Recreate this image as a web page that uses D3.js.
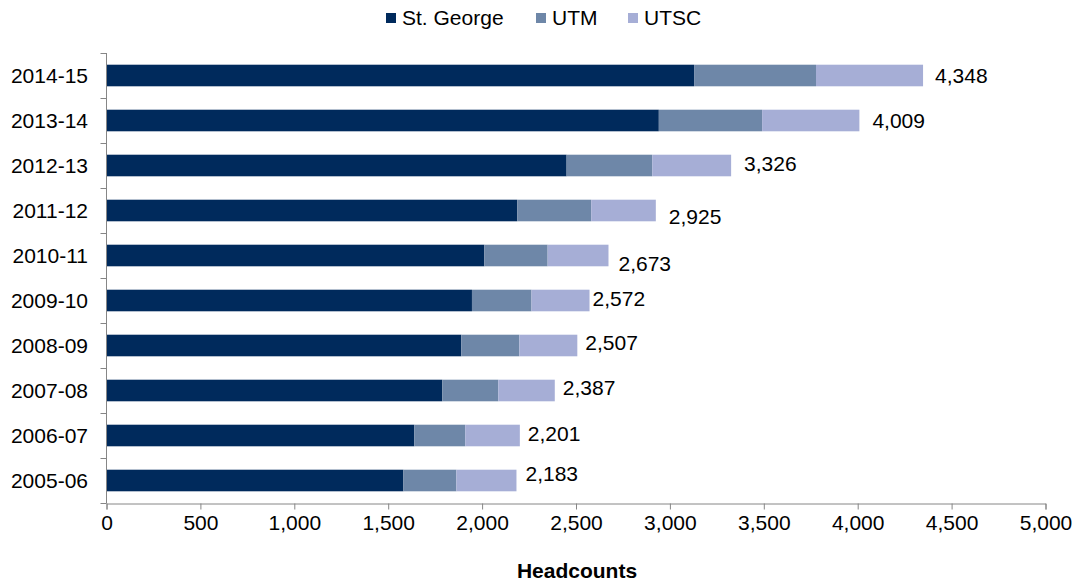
<!DOCTYPE html>
<html>
<head>
<meta charset="utf-8">
<script src="https://cdn.jsdelivr.net/npm/d3@7"></script>
<style>
  html, body { margin: 0; padding: 0; background: #fff; }
  svg { display: block; font-family: "Liberation Sans", Arial, sans-serif; }
</style>
</head>
<body>
<svg id="chart" width="1075" height="582"></svg>
<script>
// ---- data ----
const categories = ["2014-15","2013-14","2012-13","2011-12","2010-11","2009-10","2008-09","2007-08","2006-07","2005-06"];
const stGeorge = [3129, 2941, 2450, 2187, 2012, 1946, 1889, 1788, 1639, 1581];
const utm      = [ 649,  550,  456,  394,  337,  317,  309,  298,  271,  282];
const utsc     = [ 570,  518,  420,  344,  324,  309,  309,  301,  291,  320];
const totals   = [4348, 4009, 3326, 2925, 2673, 2572, 2507, 2387, 2201, 2183];
const seriesNames = ["St. George", "UTM", "UTSC"];
const xTicks = [0, 500, 1000, 1500, 2000, 2500, 3000, 3500, 4000, 4500, 5000];
const axisTitle = "Headcounts";

// ---- style ----
const colors = ["#002A5C", "#6E87A8", "#A6AED6"];
const labelDx = [12, 13, 13, 13, 10, 3, 8, 8, 8, 9];
const labelDy = [0, 0, -2, 6, 8, -2, -3, -3, -2, -7];
const fontSize = 21;
const axisColor = "#868686";

const svg = d3.select("#chart");
const x = d3.scaleLinear().domain([0, 5000]).range([106.5, 1045.5]);
const y = d3.scaleBand().domain(categories).range([53, 503]).paddingInner(0.52).paddingOuter(0.26);

const rows = categories.map((c, i) => ({cat: c, "St. George": stGeorge[i], "UTM": utm[i], "UTSC": utsc[i], total: totals[i], i}));
const stack = d3.stack().keys(seriesNames)(rows);

// bars
stack.forEach((s, si) => {
  svg.append("g").selectAll("rect").data(s).join("rect")
    .attr("x", d => x(d[0]))
    .attr("y", d => y(d.data.cat))
    .attr("width", d => x(d[1]) - x(d[0]))
    .attr("height", y.bandwidth())
    .attr("fill", colors[si]);
});

// total labels
svg.append("g").selectAll("text").data(rows).join("text")
  .attr("x", d => x(d3.sum(seriesNames, k => d[k])) + labelDx[d.i])
  .attr("y", d => y(d.cat) + y.bandwidth() / 2 + labelDy[d.i])
  .attr("dy", "0.35em")
  .attr("font-size", fontSize)
  .attr("fill", "#000")
  .text(d => d3.format(",")(d.total));

// x axis
const xAxis = svg.append("g").attr("transform", "translate(0,503.5)")
  .call(d3.axisBottom(x).tickValues(xTicks).tickFormat(d3.format(",")).tickSize(6).tickPadding(6));
xAxis.select(".domain").attr("stroke", axisColor);
xAxis.selectAll(".tick line").attr("stroke", axisColor);
xAxis.selectAll(".tick text").attr("font-size", fontSize).attr("font-family", "Liberation Sans, Arial, sans-serif").attr("fill", "#000");

// y axis (ticks at band boundaries)
const yAxisG = svg.append("g");
yAxisG.append("line").attr("x1", 106.5).attr("x2", 106.5).attr("y1", y.range()[0]).attr("y2", 503.5).attr("stroke", axisColor);
const boundaries = categories.map(c => y(c) - y.step() * y.paddingInner() / 2).concat([y.range()[1]]);
yAxisG.selectAll("line.t").data(boundaries).join("line").attr("class", "t")
  .attr("x1", 100.5).attr("x2", 106.5)
  .attr("y1", d => Math.round(d) + 0.5).attr("y2", d => Math.round(d) + 0.5)
  .attr("stroke", axisColor);
yAxisG.selectAll("text").data(categories).join("text")
  .attr("x", 88)
  .attr("y", d => y(d) + y.bandwidth() / 2)
  .attr("dy", "0.35em")
  .attr("text-anchor", "end")
  .attr("font-size", fontSize)
  .attr("fill", "#000")
  .text(d => d);

// axis title
svg.append("text")
  .attr("x", (x(0) + x(5000)) / 2 + 1)
  .attr("y", 571)
  .attr("dy", "0.35em")
  .attr("text-anchor", "middle")
  .attr("font-size", fontSize)
  .attr("font-weight", "bold")
  .attr("fill", "#000")
  .text(axisTitle);

// legend
const legendX = [386, 536, 628];
const legend = svg.append("g").selectAll("g").data(seriesNames).join("g")
  .attr("transform", (d, i) => `translate(${legendX[i]},13)`);
legend.append("rect").attr("width", 10).attr("height", 10).attr("fill", (d, i) => colors[i]);
legend.append("text").attr("x", 16).attr("y", 5).attr("dy", "0.35em")
  .attr("font-size", fontSize).attr("fill", "#000").text(d => d);
</script>
</body>
</html>
